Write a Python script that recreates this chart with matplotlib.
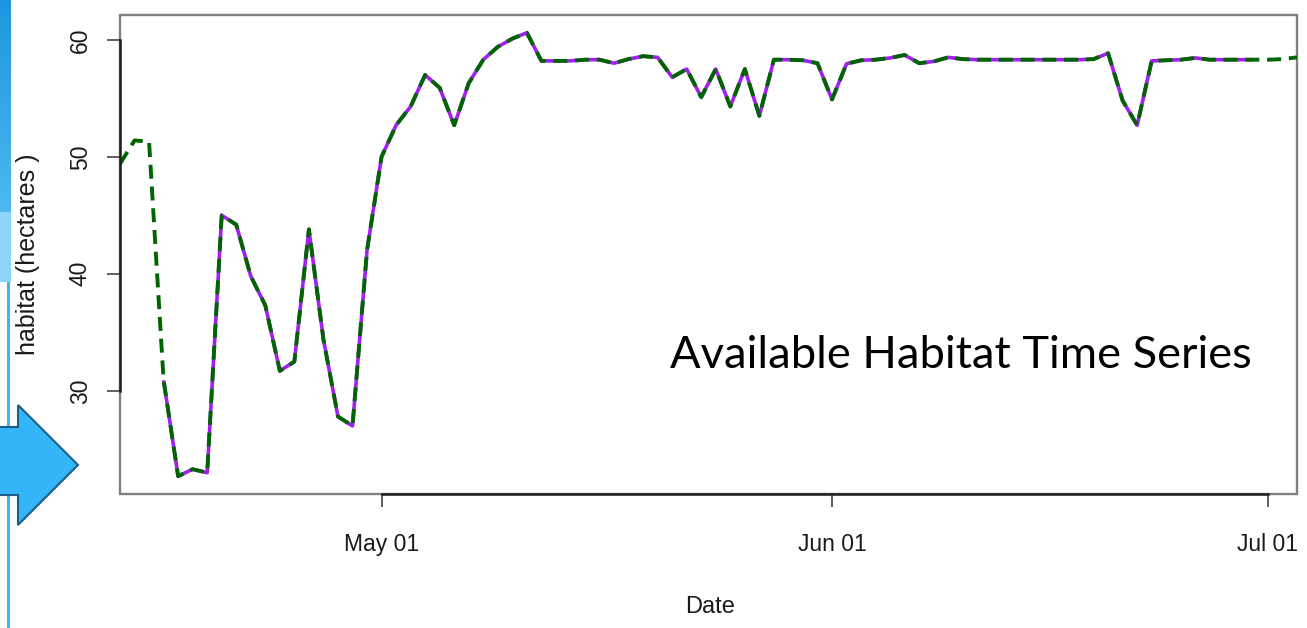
import matplotlib
matplotlib.use('Agg')
import matplotlib.pyplot as plt
import matplotlib.dates as mdates
from matplotlib import font_manager
from matplotlib.patches import Rectangle, Polygon
import numpy as np
import pandas as pd

# Daily available habitat (hectares), 13 Apr - 3 Jul
habitat = [
    49.4, 51.4, 51.3, 30.9, 22.7, 23.3, 23.0, 45.0, 44.2, 39.8,   # Apr 13-22
    37.3, 31.7, 32.5, 43.8, 34.4, 27.8, 27.0, 42.0,               # Apr 23-30
    50.0, 52.7, 54.3, 57.0, 55.9, 52.7, 56.3, 58.3, 59.4, 60.1,   # May 1-10
    60.6, 58.2, 58.2, 58.2, 58.3, 58.3, 58.0, 58.35, 58.6, 58.5,  # May 11-20
    56.8, 57.5, 55.1, 57.5, 54.3, 57.5, 53.5, 58.3, 58.3, 58.25,  # May 21-30
    58.0,                                                         # May 31
    54.9, 57.95, 58.25, 58.3, 58.45, 58.7, 58.0, 58.15, 58.5, 58.35,  # Jun 1-10
    58.3, 58.3, 58.3, 58.3, 58.3, 58.3, 58.3, 58.3, 58.35, 58.85,     # Jun 11-20
    54.8, 52.7, 58.2, 58.25, 58.3, 58.45, 58.3, 58.3, 58.3, 58.3,     # Jun 21-30
    58.3, 58.35, 58.5,                                                # Jul 1-3
]
dates = pd.date_range('2013-04-13', periods=len(habitat), freq='D')

# the observed window (solid purple); the dashed series covers the full range
obs_start, obs_end = '2013-04-16', '2013-06-30'

ytick_vals = [30, 40, 50, 60]
xtick_dates = ['2013-05-01', '2013-06-01', '2013-07-01']
xtick_labels = ['May 01', 'Jun 01', 'Jul 01']

W, H = 1307, 628
names = {f.name for f in font_manager.fontManager.ttflist}
narrow = 'Liberation Sans Narrow' if 'Liberation Sans Narrow' in names else 'Liberation Sans'

fig = plt.figure(figsize=(W / 100, H / 100), dpi=100)
ax = fig.add_axes([120 / W, (H - 494) / H, (1297 - 120) / W, (494 - 15) / H])

hab = pd.Series(habitat, index=dates)
obs = hab[obs_start:obs_end]
ax.plot(obs.index, obs.values, color='#A020F0', lw=2.6, solid_capstyle='butt')
ax.plot(hab.index, hab.values, color='#006400', lw=2.8, dashes=(3.6, 2.0))

ax.set_xlim(mdates.date2num(pd.Timestamp('2013-04-13')), mdates.date2num(pd.Timestamp('2013-07-03')))
ax.set_ylim(21.18, 62.12)

# R-style frame: grey box plus black axis lines spanning the ticks
for s in ['top', 'right']:
    ax.spines[s].set_visible(False)
ax.add_patch(Rectangle((0, 0), 1, 1, transform=ax.transAxes, fill=False,
                       ec='#808080', lw=1.7, clip_on=False, zorder=0.5))
xt = [mdates.date2num(pd.Timestamp(d)) for d in xtick_dates]
ax.spines['bottom'].set_bounds(xt[0], xt[-1])
ax.spines['left'].set_bounds(ytick_vals[0], ytick_vals[-1])
for s in ['bottom', 'left']:
    ax.spines[s].set_color('#202020')
    ax.spines[s].set_linewidth(1.8)

ax.set_yticks(ytick_vals)
ax.set_yticklabels([str(v) for v in ytick_vals], rotation=90, va='center',
                   family='Liberation Sans', fontsize=16.5, color='#1a1a1a')
ax.set_xticks(xt)
ax.set_xticklabels(xtick_labels, family=narrow, fontsize=16.5, color='#1a1a1a')
ax.tick_params(axis='y', length=9.4, width=1.1, pad=11, color='#333333')
ax.tick_params(axis='x', length=9.4, width=1.1, pad=19, color='#333333')

fig.text(710 / W, 1 - 607 / H, 'Date', family=narrow, fontsize=17,
         ha='center', va='center', color='#1a1a1a')
fig.text(28 / W, 1 - 254 / H, 'habitat (hectares )', family='Liberation Sans',
         fontsize=18, rotation=90, ha='center', va='center', color='#1a1a1a')

fig.text(670 / W, 1 - 355 / H, 'Available Habitat Time Series', family='Lato',
         fontsize=32.6, ha='left', va='center', color='black')

# slide decorations on the left edge
def px(x, y):
    return (x / W, 1 - y / H)

strip = fig.add_axes([0, 1 - 212 / H, 11 / W, 212 / H])
grad = np.linspace(0, 1, 100).reshape(-1, 1)
strip.imshow(grad, aspect='auto', cmap=matplotlib.colors.LinearSegmentedColormap.from_list(
    'strip', ['#1E96DE', '#4DB8F0']))
strip.axis('off')
fig.add_artist(Rectangle(px(0, 282), 11 / W, 70 / H, transform=fig.transFigure,
                         color='#8ED4F7', lw=0))
fig.add_artist(Rectangle(px(7, 628), 3 / W, (628 - 282) / H, transform=fig.transFigure,
                         color='#3DB5F2', lw=0))
arrow = [(-5, 427), (18, 427), (18, 405), (78, 465), (18, 525), (18, 495), (-5, 495)]
fig.add_artist(Polygon([px(x, y) for x, y in arrow], closed=True, transform=fig.transFigure,
                       fc='#33B5F8', ec='#1C5D8A', lw=1.5))

fig.savefig('out.png', dpi=100)
